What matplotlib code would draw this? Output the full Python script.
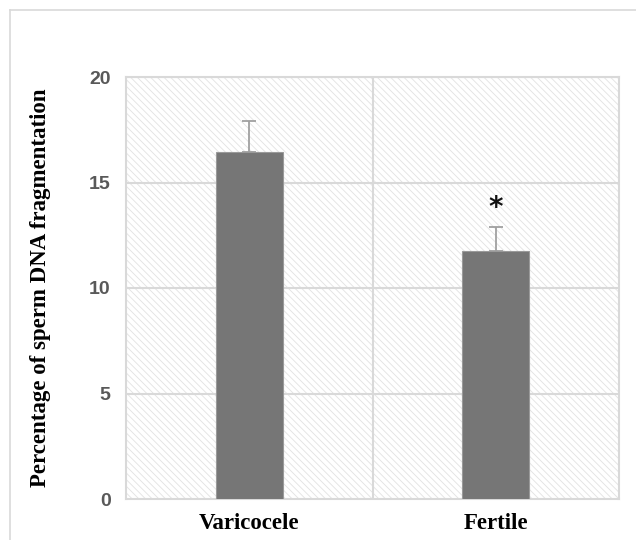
import matplotlib.pyplot as plt
from matplotlib.patches import Rectangle
from matplotlib.lines import Line2D

groups = ["Varicocele", "Fertile"]
means = [16.45, 11.75]
errors = [1.45, 1.15]
stars = ["", "*"]
yticks = [0, 5, 10, 15, 20]

grid_col = "#d9d9d9"
bar_col = "#767676"

plt.rcParams["hatch.color"] = "#e2e2e2"
plt.rcParams["hatch.linewidth"] = 0.6

fig = plt.figure(figsize=(6.36, 5.4), dpi=100)
# outer chart border
fig.add_artist(Line2D([10 / 636, 1.0], [1 - 10 / 540] * 2, transform=fig.transFigure, color=grid_col, lw=1.2))
fig.add_artist(Line2D([10 / 636] * 2, [0, 1 - 10 / 540], transform=fig.transFigure, color=grid_col, lw=1.2))

ax = fig.add_axes([126 / 636, 41 / 540, 493 / 636, 422 / 540])
x = list(range(len(groups)))

# hatched plot-area background
ax.add_patch(Rectangle((0, 0), 1, 1, transform=ax.transAxes, facecolor="white",
                       edgecolor="#e2e2e2", linewidth=0, hatch="\\\\\\\\\\", zorder=0.5))

for t in yticks[1:]:
    ax.axhline(t, color=grid_col, lw=1.5, zorder=1)
ax.axvline(0.5, color=grid_col, lw=1.5, zorder=1)

ax.errorbar(x, means, yerr=[[0] * len(x), errors], fmt="none", ecolor="#a0a0a0",
            elinewidth=1.3, capsize=5, capthick=1.3, zorder=2)
ax.bar(x, means, width=0.27, color=bar_col, edgecolor="#9a9a9a", linewidth=0.8, zorder=3)

for xi, m, e, s in zip(x, means, errors, stars):
    if s:
        ax.text(xi, m + e + 0.25, s, ha="center", va="bottom", fontsize=20,
                fontweight="bold", color="#111111", family="DejaVu Sans")

ax.set_xlim(-0.5, len(groups) - 0.5)
ax.set_ylim(0, 20)
ax.set_yticks(yticks)
ax.set_xticks(x)
ax.set_xticklabels(groups, family="Liberation Serif", fontweight="bold", fontsize=16.5)
for lab in ax.get_yticklabels():
    lab.set_family("Liberation Sans")
    lab.set_fontweight("bold")
    lab.set_fontsize(14)
    lab.set_color("#595959")
ax.tick_params(axis="both", length=0)
ax.tick_params(axis="y", pad=11)
ax.tick_params(axis="x", pad=10)
for sp in ax.spines.values():
    sp.set_color(grid_col)
    sp.set_linewidth(1.5)

ax.set_ylabel("Percentage of sperm DNA fragmentation", family="Liberation Serif",
              fontweight="bold", fontsize=16.5, labelpad=27)

fig.savefig("out.png", dpi=100)
